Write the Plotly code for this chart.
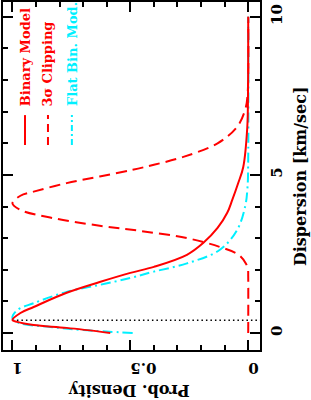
import plotly.graph_objects as go

# Binary Model (solid red)
disp_binary = [0.0, 0.16, 0.25, 0.35, 0.41, 0.63, 0.82, 1.27, 1.61, 1.9, 2.09, 2.47, 2.85, 3.32, 3.8, 4.2, 4.75, 5.25, 6.5, 7.5, 10.0]
dens_binary = [0.585, 0.77, 0.91, 0.98, 1.0, 0.966, 0.91, 0.77, 0.63, 0.50, 0.40, 0.26, 0.19, 0.13, 0.089, 0.068, 0.042, 0.021, 0.004, 0.001, 0.0]

# 3 sigma clipping (dashed red)
disp_clip = [0.0, 1.8, 2.0, 2.2, 2.47, 2.72, 3.0, 3.23, 3.39, 3.65, 3.89, 4.1, 4.34, 4.47, 4.74, 4.95, 5.16, 5.32, 5.57, 6.0, 6.52, 7.06, 7.5, 10.0]
dens_clip = [0.0, 0.0, 0.001, 0.01, 0.04, 0.12, 0.26, 0.46, 0.63, 0.84, 0.966, 1.0, 0.966, 0.91, 0.77, 0.63, 0.49, 0.40, 0.275, 0.13, 0.047, 0.013, 0.003, 0.0]

# Flat binary model (cyan dash-dot)
disp_flat = [0.0, 0.09, 0.19, 0.31, 0.47, 0.72, 0.94, 1.3, 1.52, 1.74, 1.94, 2.2, 2.63, 3.26, 4.0, 4.6, 5.5, 10.0]
dens_flat = [0.49, 0.70, 0.84, 0.97, 1.0, 0.98, 0.91, 0.77, 0.63, 0.50, 0.40, 0.26, 0.12, 0.047, 0.013, 0.003, 0.0, 0.0]

# dotted reference line
ref_disp = [0.4, 0.4]
ref_dens = [1.0, -0.1]

legend_names = ["Binary Model", "3σ Clipping", "Flat Bin. Mod."]
x_ticks = [0, 0.5, 1]
x_ticklabels = ["0", "0.5", "1"]
y_ticks = [0, 5, 10]
y_ticklabels = ["0", "5", "10"]

RED = "#ff0000"
CYAN = "#00f0ff"
FONT = "DejaVu Serif"

fig = go.Figure()
fig.add_trace(go.Scatter(x=ref_dens, y=ref_disp, mode="lines",
                         line=dict(color="black", width=1.5, dash="1.5px,3px"), showlegend=False))
fig.add_trace(go.Scatter(x=dens_clip, y=disp_clip, mode="lines", line_shape="spline",
                         line=dict(color=RED, width=2, dash="11px,6px"), showlegend=False))
fig.add_trace(go.Scatter(x=dens_flat, y=disp_flat, mode="lines", line_shape="spline",
                         line=dict(color=CYAN, width=2, dash="10px,4px,2px,4px"), showlegend=False))
fig.add_trace(go.Scatter(x=dens_binary, y=disp_binary, mode="lines", line_shape="spline",
                         line=dict(color=RED, width=2), showlegend=False))

axis_common = dict(showline=True, linecolor="black", linewidth=2, mirror="allticks",
                   ticks="inside", ticklen=10, tickwidth=1.5, tickcolor="black",
                   showgrid=False, zeroline=False, automargin=False,
                   tickfont=dict(family=FONT, size=15, color="black", weight="bold"))

fig.update_layout(
    width=311, height=400,
    margin=dict(l=3, r=51, t=2, b=50),
    paper_bgcolor="white", plot_bgcolor="white",
    xaxis=dict(range=[1.04, -0.05], tickvals=x_ticks, ticktext=x_ticklabels, tickangle=180,
               ticklabelstandoff=8,
               minor=dict(dtick=0.1, tick0=0, ticks="inside", ticklen=5, tickwidth=1.5, tickcolor="black"),
               **axis_common),
    yaxis=dict(range=[-0.54, 10.47], side="right", tickvals=y_ticks, ticktext=y_ticklabels, tickangle=-90,
               ticklabelstandoff=2,
               minor=dict(dtick=1, tick0=0, ticks="inside", ticklen=5, tickwidth=1.5, tickcolor="black"),
               **axis_common),
)

title_font = dict(family=FONT, size=16, color="black", weight="bold")
fig.add_annotation(text="Prob. Density", textangle=180, xref="paper", yref="paper",
                   x=0.49, y=-0.118, xanchor="center", yanchor="middle", showarrow=False, font=title_font)
fig.add_annotation(text="Dispersion [km/sec]", textangle=-90, xref="paper", yref="paper",
                   x=1.156, y=0.5, xanchor="center", yanchor="middle", showarrow=False, font=title_font)

leg_x = [0.0856, 0.175, 0.268]
leg_colors = [RED, RED, CYAN]
leg_dash = ["solid", "8px,5px", "6px,3px,2px,3px"]
for name, lx, col, dsh in zip(legend_names, leg_x, leg_colors, leg_dash):
    fig.add_annotation(text=name, textangle=-90, xref="paper", yref="paper",
                       x=lx, y=0.695, xanchor="center", yanchor="bottom", showarrow=False,
                       font=dict(family=FONT, size=13, color=col, weight="bold"))
    fig.add_shape(type="line", xref="paper", yref="paper", x0=lx, x1=lx,
                  y0=0.589, y1=0.675, line=dict(color=col, width=2, dash=dsh))

fig.write_html("out.html", post_script="document.body.style.margin='0px';",
               config={"displayModeBar": False})
